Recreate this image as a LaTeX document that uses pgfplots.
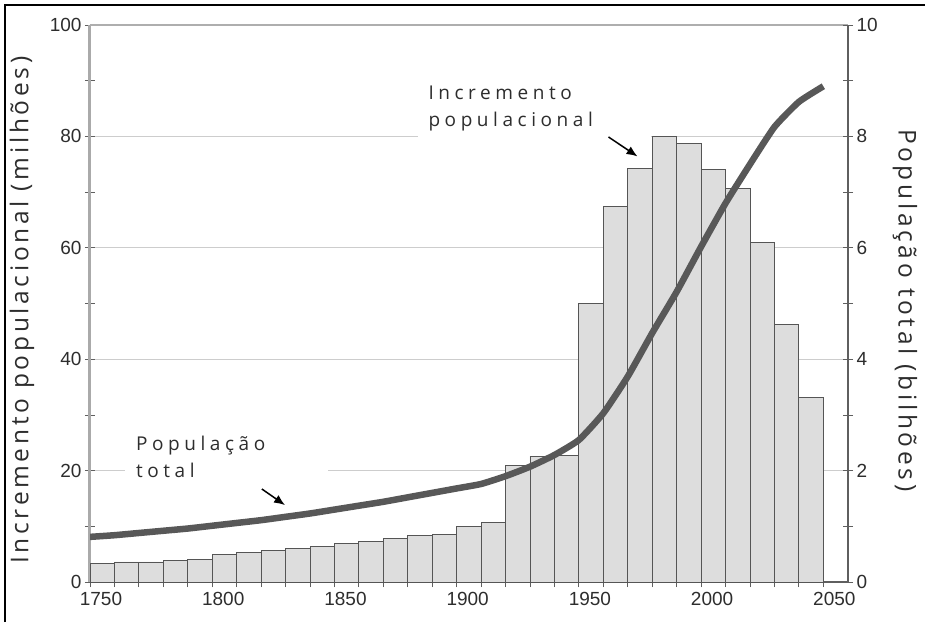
\documentclass[border=0pt]{standalone}
\usepackage{fontspec}
\setmainfont{Liberation Sans}
\newfontfamily\labfont[LetterSpace=15]{Open Sans}
\newfontfamily\annfont[LetterSpace=24]{Open Sans}
\usepackage{pgfplots}
\pgfplotsset{compat=1.18}
\usetikzlibrary{arrows.meta}

\definecolor{barfill}{RGB}{221,221,221}
\definecolor{baredge}{RGB}{85,85,85}
\definecolor{linegray}{RGB}{88,88,88}
\definecolor{gridgray}{RGB}{205,205,205}
\definecolor{axislight}{RGB}{170,170,170}
\definecolor{axisdark}{RGB}{95,95,95}
\definecolor{textgray}{RGB}{45,45,45}

% increment per decade (millions per year), bar from year to year+10
\pgfplotstableread{
year inc
1750 3.4
1760 3.6
1770 3.6
1780 3.9
1790 4.1
1800 5.0
1810 5.3
1820 5.7
1830 6.0
1840 6.3
1850 6.9
1860 7.3
1870 7.9
1880 8.3
1890 8.6
1900 10.0
1910 10.7
1920 20.9
1930 22.6
1940 22.8
1950 50.0
1960 67.5
1970 74.3
1980 80.0
1990 78.8
2000 74.0
2010 70.7
2020 61.0
2030 46.3
2040 33.2
2050 0
}\incdata

% total population (billions)
\pgfplotstableread{
year pop
1750 0.81
1760 0.84
1770 0.88
1780 0.92
1790 0.96
1800 1.01
1810 1.06
1820 1.11
1830 1.17
1840 1.23
1850 1.30
1860 1.37
1870 1.44
1880 1.52
1890 1.60
1900 1.68
1910 1.76
1920 1.90
1930 2.07
1940 2.28
1950 2.55
1960 3.03
1970 3.69
1980 4.47
1990 5.21
2000 6.02
2010 6.80
2020 7.50
2030 8.17
2040 8.62
2050 8.90
}\popdata

\pgfplotsset{
  common/.style={
    at={(90pt,40pt)}, anchor=south west,
    scale only axis, width=758pt, height=557pt,
    xmin=1750, xmax=2060.1,
    tick align=center,
    major tick length=10pt, minor tick length=10pt,
    every tick/.style={draw=axisdark, line width=0.8pt},
    ticklabel style={font=\fontsize{19}{21}\selectfont, text=textgray},
    /pgf/number format/assume math mode=true,
    /pgf/number format/1000 sep={},
  }
}

\begin{document}
\begin{tikzpicture}
\path[use as bounding box] (0,0) rectangle (925pt,622pt);
\draw[black, line width=1.2pt] (5pt,0) -- (5pt,617pt) -- (925pt,617pt);

\begin{axis}[common,
  ymin=0, ymax=100,
  axis x line*=bottom, axis y line*=left,
  x axis line style={draw=axisdark, line width=1.2pt},
  y axis line style={draw=axislight, line width=3pt},
  xtick={1750,1800,...,2050},
  minor xtick={1760,1770,...,2040},
  xticklabel style={xshift=11pt, yshift=-2pt},
  ytick={0,20,...,100},
  minor ytick={10,30,...,90},
  ymajorgrids,
  major grid style={draw=gridgray, line width=1pt},
  clip=false,
  every axis y label/.style={at={(axis description cs:-0.0897,0.488)}, rotate=90, anchor=center},
  ylabel={\labfont\fontsize{24.5}{26}\selectfont\color{textgray}Incremento populacional (milhões)},
]
\addplot[ybar interval, fill=barfill, draw=baredge, line width=0.9pt] table[x=year, y=inc] {\incdata};
\draw[gridgray!85!black, line width=2.5pt] (axis cs:1750,100) -- (axis cs:2060.1,100);

\fill[white] (axis cs:1884.2,79.2) rectangle (axis cs:1979.5,92);
\fill[white] (axis cs:1764.3,16.5) rectangle (axis cs:1847.4,28.2);

\node[anchor=base west, inner sep=0, text=textgray, font=\annfont\fontsize{19}{21}\selectfont] at (axis cs:1888.4,86.7) {Incremento};
\node[anchor=base west, inner sep=0, text=textgray, font=\annfont\fontsize{19}{21}\selectfont] at (axis cs:1888.4,81.7) {populacional};
\node[anchor=base west, inner sep=0, text=textgray, font=\annfont\fontsize{19}{21}\selectfont] at (axis cs:1768.8,23.6) {População};
\node[anchor=base west, inner sep=0, text=textgray, font=\annfont\fontsize{19}{21}\selectfont] at (axis cs:1768.8,18.8) {total};

\draw[black, line width=1.5pt, -{Latex[length=11pt,width=9pt]}] (axis cs:1962.1,79.9) -- (axis cs:1974,76.4);
\draw[black, line width=1.5pt, -{Latex[length=11pt,width=9pt]}] (axis cs:1820.3,16.7) -- (axis cs:1829.8,13.8);
\end{axis}

\begin{axis}[common,
  ymin=0, ymax=10,
  axis x line=none, axis y line*=right,
  y axis line style={draw=axisdark, line width=1.2pt},
  ytick={0,2,...,10},
  minor ytick={1,3,...,9},
  every axis y label/.style={at={(axis description cs:1.0752,0.488)}, rotate=-90, anchor=center},
  ylabel={\labfont\fontsize{24.5}{26}\selectfont\color{textgray}População total (bilhões)},
]
\addplot[draw=linegray, line width=6.5pt, line join=round, smooth, tension=0.3] table[x=year, y=pop] {\popdata};
\end{axis}
\end{tikzpicture}
\end{document}
